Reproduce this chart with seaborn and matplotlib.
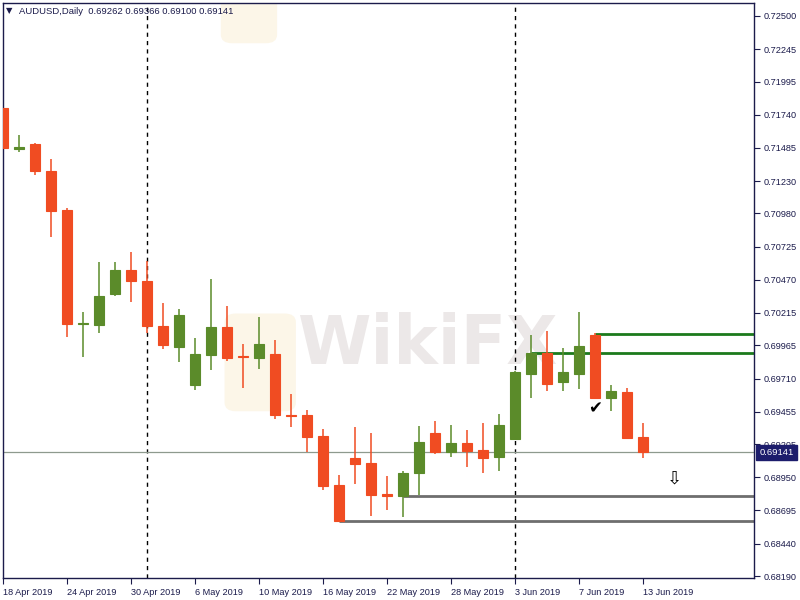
import matplotlib
matplotlib.use("Agg")
import matplotlib.pyplot as plt
from matplotlib.patches import FancyBboxPatch
import numpy as np
import pandas as pd
import seaborn as sns

# ---------------- data ----------------
dates = ["18 Apr 2019", "19 Apr 2019", "22 Apr 2019", "23 Apr 2019", "24 Apr 2019",
         "25 Apr 2019", "26 Apr 2019", "29 Apr 2019", "30 Apr 2019", "1 May 2019",
         "2 May 2019", "3 May 2019", "6 May 2019", "7 May 2019", "8 May 2019",
         "9 May 2019", "10 May 2019", "13 May 2019", "14 May 2019", "15 May 2019",
         "16 May 2019", "17 May 2019", "20 May 2019", "21 May 2019", "22 May 2019",
         "23 May 2019", "24 May 2019", "27 May 2019", "28 May 2019", "29 May 2019",
         "30 May 2019", "31 May 2019", "3 Jun 2019", "4 Jun 2019", "5 Jun 2019",
         "6 Jun 2019", "7 Jun 2019", "10 Jun 2019", "11 Jun 2019", "12 Jun 2019",
         "13 Jun 2019"]
opens = [0.71792, 0.71480, 0.71515, 0.71307, 0.71007, 0.70132, 0.70122, 0.70361, 0.70545, 0.70461,
         0.70114, 0.69953, 0.69660, 0.69891, 0.70107, 0.69880, 0.69868, 0.69899, 0.69433, 0.69429,
         0.69268, 0.68891, 0.69098, 0.69060, 0.68821, 0.68806, 0.68983, 0.69291, 0.69145, 0.69214,
         0.69160, 0.69106, 0.69245, 0.69745, 0.69906, 0.69683, 0.69745, 0.70045, 0.69560, 0.69606,
         0.69262]
highs = [0.71984, 0.71584, 0.71523, 0.71399, 0.71022, 0.70222, 0.70607, 0.70607, 0.70684, 0.70614,
         0.70291, 0.70245, 0.70022, 0.70476, 0.70268, 0.69976, 0.70184, 0.70007, 0.69591, 0.69468,
         0.69322, 0.68968, 0.69337, 0.69291, 0.68960, 0.68998, 0.69345, 0.69383, 0.69352, 0.69314,
         0.69368, 0.69437, 0.69768, 0.70045, 0.70076, 0.69945, 0.70222, 0.70060, 0.69660, 0.69637,
         0.69366]
lows = [0.71392, 0.71453, 0.71276, 0.70799, 0.70030, 0.69876, 0.70060, 0.70345, 0.70299, 0.70060,
        0.69937, 0.69837, 0.69622, 0.69776, 0.69845, 0.69637, 0.69783, 0.69399, 0.69337, 0.69145,
        0.68852, 0.68610, 0.68898, 0.68652, 0.68698, 0.68644, 0.68814, 0.69129, 0.69106, 0.69029,
        0.68983, 0.68998, 0.69237, 0.69560, 0.69614, 0.69614, 0.69629, 0.69552, 0.69460, 0.69245,
        0.69100]
closes = [0.71484, 0.71488, 0.71307, 0.70999, 0.70130, 0.70140, 0.70345, 0.70545, 0.70461, 0.70114,
          0.69968, 0.70199, 0.69899, 0.70107, 0.69868, 0.69872, 0.69976, 0.69429, 0.69425, 0.69260,
          0.68883, 0.68614, 0.69052, 0.68814, 0.68806, 0.68983, 0.69222, 0.69145, 0.69214, 0.69152,
          0.69098, 0.69352, 0.69760, 0.69906, 0.69668, 0.69760, 0.69960, 0.69560, 0.69614, 0.69252,
          0.69141]

price_ticks = [0.72500, 0.72245, 0.71995, 0.71740, 0.71485, 0.71230, 0.70980, 0.70725, 0.70470,
               0.70215, 0.69965, 0.69710, 0.69455, 0.69205, 0.68950, 0.68695, 0.68440, 0.68190]
date_tick_labels = ["18 Apr 2019", "24 Apr 2019", "30 Apr 2019", "6 May 2019", "10 May 2019",
                    "16 May 2019", "22 May 2019", "28 May 2019", "3 Jun 2019", "7 Jun 2019",
                    "13 Jun 2019"]
month_starts = ["1 May 2019", "3 Jun 2019"]
support_levels = [0.68806, 0.68614]
support_from = ["23 May 2019", "17 May 2019"]
resist_levels = [0.70053, 0.69906]
resist_from = ["10 Jun 2019", "4 Jun 2019"]
last_price = 0.69141
title_text = "AUDUSD,Daily  0.69262 0.69366 0.69100 0.69141"
check_at = ("10 Jun 2019", 0.69483)
arrow_at = (42, 0.68944)

# ---------------- style ----------------
sns.set_theme(style="white")
plt.rcParams['font.family'] = ['Liberation Sans', 'DejaVu Sans']
NAVY = "#1b1b4b"
RED = "#f04c22"
GREEN = "#5b8b2a"

df = pd.DataFrame({"date": dates, "open": opens, "high": highs, "low": lows, "close": closes})
df["x"] = np.arange(len(df))
df["up"] = df["close"] >= df["open"]
pos = dict(zip(df["date"], df["x"]))

fig = plt.figure(figsize=(8, 6), dpi=100)
ax = fig.add_axes([3 / 800, 1 - 578 / 600, 751 / 800, 575 / 600])

# watermark (faint logo boxes + text)
for (x0, y0, w, h) in [(0.295, 0.29, 0.095, 0.17), (0.29, 0.93, 0.075, 0.10)]:
    ax.add_patch(FancyBboxPatch((x0, y0), w, h, boxstyle="round,pad=0.0,rounding_size=0.015",
                                transform=ax.transAxes, fc="#fcf6e8", ec="none", zorder=0,
                                clip_on=True))
ax.text(0.565, 0.405, "WikiFX", transform=ax.transAxes, fontsize=48, fontweight="bold",
        color="#ece8e8", ha="center", va="center", zorder=0, family="DejaVu Sans")

# month separators
for d in month_starts:
    ax.axvline(pos[d], color="black", lw=1, ls=(0, (3, 3)), zorder=1)

# current price line
ax.axhline(last_price, color="#8e9a8e", lw=0.9, zorder=1)

xmax = 46.94
for lvl, d in zip(support_levels, support_from):
    ax.hlines(lvl, pos[d], xmax, color="#6e6e6e", lw=2, zorder=1)
for lvl, d in zip(resist_levels, resist_from):
    ax.hlines(lvl, pos[d], xmax, color="#1c7a1c", lw=2, zorder=1)

# candles
colors = [GREEN if u else RED for u in df["up"]]
ax.vlines(df["x"], df["low"], df["high"], colors=colors, lw=1.1, zorder=2)
body_low = np.minimum(df["open"], df["close"])
body_h = np.abs(df["close"] - df["open"])
ax.bar(df["x"], body_h, bottom=body_low, width=0.68, color=colors, edgecolor=colors,
       linewidth=0.8, zorder=3)

# annotations
ax.text(pos[check_at[0]], check_at[1], "✔", fontsize=12, color="black", ha="center",
        va="center", zorder=4, family="DejaVu Sans")
ax.text(arrow_at[0], arrow_at[1], "⇩", fontsize=13, color="black", ha="center",
        va="center", zorder=4, family="DejaVu Sans")

# axes limits & ticks
ax.set_xlim(0, xmax)
ax.set_ylim(0.681748, 0.726)
ax.yaxis.tick_right()
ax.set_yticks(price_ticks)
ax.set_yticklabels([f"{v:.5f}" for v in price_ticks])
ax.set_xticks([pos[d] for d in date_tick_labels])
ax.set_xticklabels(date_tick_labels)
for lab in ax.get_xticklabels():
    lab.set_ha("left")
ax.tick_params(axis="both", which="both", direction="out", length=4, width=0.8,
               colors=NAVY, labelsize=6.6, pad=2)
ax.tick_params(axis="y", labelcolor=NAVY, right=True, left=False, pad=3)
ax.tick_params(axis="x", bottom=True, labelcolor=NAVY, pad=3)
for s in ax.spines.values():
    s.set_color(NAVY)
    s.set_linewidth(1)
ax.grid(False)
ax.set_facecolor("white")

# last price label
ax.annotate(f"{last_price:.5f}", xy=(1.0, last_price),
            xycoords=("axes fraction", "data"), xytext=(4, 0), textcoords="offset points",
            ha="left", va="center", fontsize=6.8, color="white", zorder=10,
            annotation_clip=False,
            bbox=dict(boxstyle="square,pad=0.35", fc="#1c1c6c", ec="#1c1c6c"))

# title
fig.text(6 / 800, 1 - 11 / 600, "▼", fontsize=6, color=NAVY, va="center", ha="left",
         family="DejaVu Sans")
fig.text(19 / 800, 1 - 11 / 600, title_text, fontsize=6.8, color=NAVY, va="center", ha="left")

fig.savefig("out.png", dpi=100)
